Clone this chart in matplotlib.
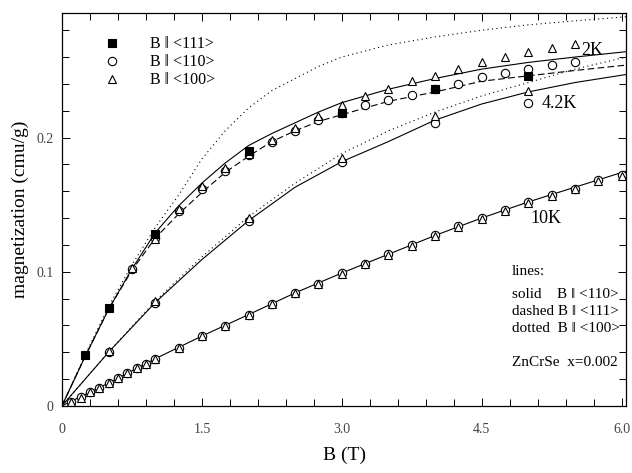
import numpy as np
import matplotlib.pyplot as plt
from matplotlib.lines import Line2D

plt.rcParams['font.family'] = ['Liberation Serif', 'DejaVu Serif']

# --- measured points, 2 K ---
b2_111 = [0.25, 0.5, 1.0, 2.0, 3.0, 4.0, 5.0]
m2_111 = [0.038, 0.073, 0.128, 0.190, 0.218, 0.236, 0.246]

b2 = [0.75, 1.0, 1.25, 1.5, 1.75, 2.0, 2.25, 2.5, 2.75, 3.0, 3.25, 3.5, 3.75,
      4.0, 4.25, 4.5, 4.75, 5.0, 5.25, 5.5]
m2_110 = [0.102, 0.125, 0.145, 0.162, 0.175, 0.187, 0.197, 0.205, 0.213, 0.218,
          0.224, 0.228, 0.232, 0.236, 0.240, 0.245, 0.248, 0.251, 0.254, 0.256]
m2_100 = [0.103, 0.124, 0.147, 0.164, 0.177, 0.188, 0.198, 0.207, 0.216, 0.224,
          0.231, 0.236, 0.242, 0.246, 0.251, 0.256, 0.260, 0.264, 0.267, 0.270]

# --- measured points, 4.2 K ---
b42 = [0.5, 1.0, 2.0, 3.0, 4.0, 5.0]
m42_110 = [0.040, 0.077, 0.138, 0.182, 0.211, 0.226]
m42_100 = [0.041, 0.078, 0.140, 0.185, 0.216, 0.235]

# --- measured points, 10 K ---
b10 = [0.1, 0.2, 0.3, 0.4, 0.5, 0.6, 0.7, 0.8, 0.9, 1.0, 1.25, 1.5, 1.75, 2.0,
       2.25, 2.5, 2.75, 3.0, 3.25, 3.5, 3.75, 4.0, 4.25, 4.5, 4.75, 5.0, 5.25,
       5.5, 5.75, 6.0]
m10_110 = [0.003, 0.0063, 0.0103, 0.0135, 0.0170, 0.0206, 0.0246, 0.0283, 0.0313,
           0.0351, 0.0434, 0.0521, 0.0596, 0.0679, 0.0759, 0.0842, 0.0910, 0.0990,
           0.106, 0.113, 0.120, 0.127, 0.134, 0.140, 0.146, 0.152, 0.157, 0.162,
           0.168, 0.172]
m10_100 = [0.003, 0.0062, 0.0101, 0.0133, 0.0168, 0.0204, 0.0243, 0.0280, 0.0310,
           0.0348, 0.0431, 0.0518, 0.0593, 0.0676, 0.0756, 0.0838, 0.0907, 0.0986,
           0.1055, 0.1125, 0.1195, 0.1265, 0.1335, 0.1395, 0.1455, 0.1515, 0.1565,
           0.1615, 0.1675, 0.1715]

# --- theory curves ---
bc = [0, 0.25, 0.5, 0.75, 1.0, 1.25, 1.5, 1.75, 2.0, 2.25, 2.5, 2.75, 3.0, 3.5,
      4.0, 4.5, 5.0, 5.5, 6.05]
c2_solid = [0, 0.037, 0.072, 0.102, 0.129, 0.149, 0.166, 0.181, 0.194, 0.203,
            0.211, 0.219, 0.226, 0.236, 0.244, 0.251, 0.256, 0.260, 0.264]
c2_dash = [0, 0.037, 0.072, 0.101, 0.125, 0.143, 0.159, 0.174, 0.186, 0.197,
           0.205, 0.212, 0.217, 0.227, 0.234, 0.242, 0.246, 0.250, 0.254]
c2_dot = [0, 0.038, 0.074, 0.105, 0.133, 0.157, 0.184, 0.205, 0.222, 0.235,
          0.244, 0.253, 0.260, 0.269, 0.275, 0.280, 0.284, 0.287, 0.290]

bc42 = [0, 0.5, 1.0, 1.5, 2.0, 2.5, 3.0, 3.5, 4.0, 4.5, 5.0, 5.5, 6.05]
c42_solid = [0, 0.040, 0.077, 0.109, 0.138, 0.163, 0.182, 0.197, 0.213, 0.225,
             0.234, 0.241, 0.247]
c42_dot = [0, 0.040, 0.078, 0.111, 0.141, 0.166, 0.188, 0.205, 0.219, 0.231,
           0.241, 0.251, 0.260]

bc10 = [0, 0.5, 1.0, 1.5, 2.0, 2.5, 3.0, 3.5, 4.0, 4.5, 5.0, 5.5, 6.05]
c10 = [0, 0.017, 0.0351, 0.052, 0.068, 0.0842, 0.099, 0.113, 0.127, 0.140,
       0.152, 0.163, 0.175]

fig = plt.figure(figsize=(6.32, 4.73), dpi=100)
ax = fig.add_axes([0.098, 0.142, 0.893, 0.831])

lw = 0.8
ax.plot(bc, c2_solid, color='black', lw=lw)
ax.plot(bc, c2_dash, color='black', lw=lw, ls=(0, (6, 3)))
ax.plot(bc, c2_dot, color='black', lw=lw, ls=(0, (1, 3)))
ax.plot(bc42, c42_solid, color='black', lw=lw)
ax.plot(bc42, c42_dot, color='black', lw=lw, ls=(0, (1, 3)))
ax.plot(bc10, c10, color='black', lw=lw)

mk = dict(ls='none', mec='black', mew=0.8, ms=6)
ax.plot(b2, m2_110, marker='o', mfc='white', **mk)
ax.plot(b2, m2_100, marker='^', mfc='white', **mk)
ax.plot(b2_111, m2_111, marker='s', mfc='black', **mk)
ax.plot(b42, m42_110, marker='o', mfc='white', **mk)
ax.plot(b42, m42_100, marker='^', mfc='white', **mk)
ax.plot(b10, m10_110, marker='o', mfc='white', **mk)
ax.plot(b10, m10_100, marker='^', mfc='white', **mk)

ax.set_xlim(0, 6.05)
ax.set_ylim(0, 0.293)
ax.set_xticks([0, 1.5, 3.0, 4.5, 6.0])
ax.set_xticklabels(['0', '1.5', '3.0', '4.5', '6.0'])
ax.set_xticks(np.arange(0, 6.05, 0.3), minor=True)
ax.set_yticks([0, 0.1, 0.2])
ax.set_yticklabels(['0', '0.1', '0.2'])
ax.set_yticks(np.arange(0, 0.29, 0.02), minor=True)
ax.tick_params(which='both', direction='in', top=True, right=True,
               labelsize=10, labelcolor='#444444', width=0.7)
ax.tick_params(which='major', length=6)
ax.tick_params(which='minor', length=5)
ax.tick_params(axis='x', pad=12)
ax.tick_params(axis='y', pad=6)
for s in ax.spines.values():
    s.set_linewidth(0.9)

ax.set_xlabel('B (T)', fontsize=14, labelpad=8)
ax.set_ylabel('magnetization (cmu/g)', fontsize=14, labelpad=5)

handles = [
    Line2D([], [], marker='s', mfc='black', **mk),
    Line2D([], [], marker='o', mfc='white', **mk),
    Line2D([], [], marker='^', mfc='white', **mk),
]
ax.legend(handles, ['B ‖ <111>', 'B ‖ <110>', 'B ‖ <100>'],
          loc='upper left', bbox_to_anchor=(0.06, 0.96), frameon=False,
          fontsize=11.5, handletextpad=1.9, labelspacing=0.12,
          handlelength=1.0, borderpad=0)

ax.text(5.57, 0.265, '2K', fontsize=13, va='center')
ax.text(5.14, 0.225, '4.2K', fontsize=13, va='center')
ax.text(5.02, 0.140, '10K', fontsize=13, va='center')

tx = 4.82
fs = 11
ax.text(tx, 0.100, 'lines:', fontsize=fs, va='center')
ax.text(tx, 0.083, 'solid    B ‖ <110>', fontsize=fs, va='center')
ax.text(tx, 0.070, 'dashed B ‖ <111>', fontsize=fs, va='center')
ax.text(tx, 0.058, 'dotted  B ‖ <100>', fontsize=fs, va='center')
ax.text(tx, 0.032, 'ZnCrSe  x=0.002', fontsize=fs, va='center')

fig.savefig('out.png', dpi=100)
